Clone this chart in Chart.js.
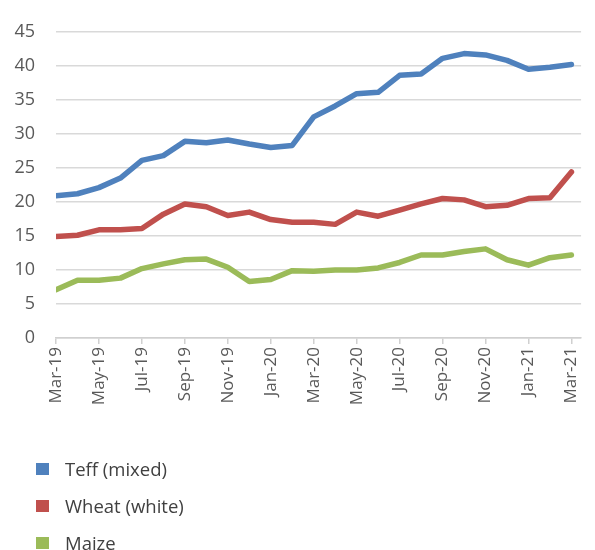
<!DOCTYPE html>
<html>
<head>
<meta charset="utf-8">
<script src="https://cdn.jsdelivr.net/npm/chart.js@4/dist/chart.umd.min.js"></script>
<style>
  html, body { margin: 0; padding: 0; background: #ffffff; }
  #wrap { position: relative; width: 595px; height: 550px; }
  #legend { position: absolute; left: 36px; top: 455px; font-family: "Open Sans", sans-serif; font-size: 18.5px; color: #404040; }
  .item { position: relative; height: 37px; line-height: 28px; }
  .box { position: absolute; left: 0; top: 8px; width: 13px; height: 12px; }
  .txt { position: absolute; left: 29px; top: 0; white-space: nowrap; }
</style>
</head>
<body>
<div id="wrap">
  <canvas id="c" width="595" height="550"></canvas>
  <div id="legend"></div>
</div>
<script>
const categories = ["Mar-19","Apr-19","May-19","Jun-19","Jul-19","Aug-19","Sep-19","Oct-19","Nov-19","Dec-19",
  "Jan-20","Feb-20","Mar-20","Apr-20","May-20","Jun-20","Jul-20","Aug-20","Sep-20","Oct-20","Nov-20","Dec-20",
  "Jan-21","Feb-21","Mar-21"];
const teff = [20.9,21.2,22.1,23.5,26.1,26.8,28.9,28.7,29.1,28.5,28.0,28.3,32.5,34.1,35.9,36.1,38.6,38.8,41.1,41.8,41.6,40.8,39.5,39.8,40.2];
const wheat = [14.9,15.1,15.9,15.9,16.1,18.2,19.7,19.3,18.0,18.5,17.4,17.0,17.0,16.7,18.5,17.9,18.8,19.7,20.5,20.3,19.3,19.5,20.5,20.6,24.4];
const maize = [7.1,8.5,8.5,8.8,10.2,10.9,11.5,11.6,10.4,8.3,8.6,9.9,9.8,10.0,10.0,10.3,11.1,12.2,12.2,12.7,13.1,11.5,10.7,11.8,12.2];
const seriesNames = ["Teff (mixed)","Wheat (white)","Maize"];
const seriesColors = ["#4f81bd","#c0504d","#9bbb59"];
const yTicks = [0,5,10,15,20,25,30,35,40,45];
const xTickIndices = [0,2,4,6,8,10,12,14,16,18,20,22,24];

const font = "'Open Sans', sans-serif";
const chart = new Chart(document.getElementById('c'), {
  type: 'line',
  data: {
    datasets: [teff, wheat, maize].map((d, i) => ({
      label: seriesNames[i],
      data: d.map((v, j) => ({ x: j, y: v })),
      borderColor: seriesColors[i],
      backgroundColor: seriesColors[i],
      borderWidth: 5.5,
      pointRadius: 0,
      tension: 0,
      borderJoinStyle: 'round',
      borderCapStyle: 'round'
    }))
  },
  options: {
    responsive: false,
    animation: false,
    layout: { padding: { top: 22, right: 10, left: 0, bottom: 0 } },
    plugins: { legend: { display: false }, tooltip: { enabled: false } },
    scales: {
      x: {
        type: 'linear',
        min: 0, max: 24.45,
        afterFit: s => { s.height = 212; },
        afterBuildTicks: s => { s.ticks = xTickIndices.map(v => ({ value: v })); },
        grid: { drawOnChartArea: false, drawTicks: true, tickLength: 6, color: '#d0d0d0', lineWidth: 1.5 },
        border: { display: true, color: '#d0d0d0', width: 1.5 },
        ticks: {
          autoSkip: false, minRotation: 90, maxRotation: 90, padding: 3,
          color: '#595959', font: { family: font, size: 17 },
          callback: v => categories[v]
        }
      },
      y: {
        min: 0, max: 45,
        afterFit: s => { s.width = 56; },
        afterBuildTicks: s => { s.ticks = yTicks.map(v => ({ value: v })); },
        grid: { color: '#d9d9d9', lineWidth: 1.5, drawTicks: false },
        border: { display: false },
        ticks: { padding: 21, color: '#595959', font: { family: font, size: 18 } }
      }
    }
  }
});

const legend = document.getElementById('legend');
chart.data.datasets.forEach(ds => {
  const item = document.createElement('div');
  item.className = 'item';
  const box = document.createElement('span');
  box.className = 'box';
  box.style.background = ds.borderColor;
  const txt = document.createElement('span');
  txt.className = 'txt';
  txt.textContent = ds.label;
  item.appendChild(box); item.appendChild(txt);
  legend.appendChild(item);
});
</script>
</body>
</html>
